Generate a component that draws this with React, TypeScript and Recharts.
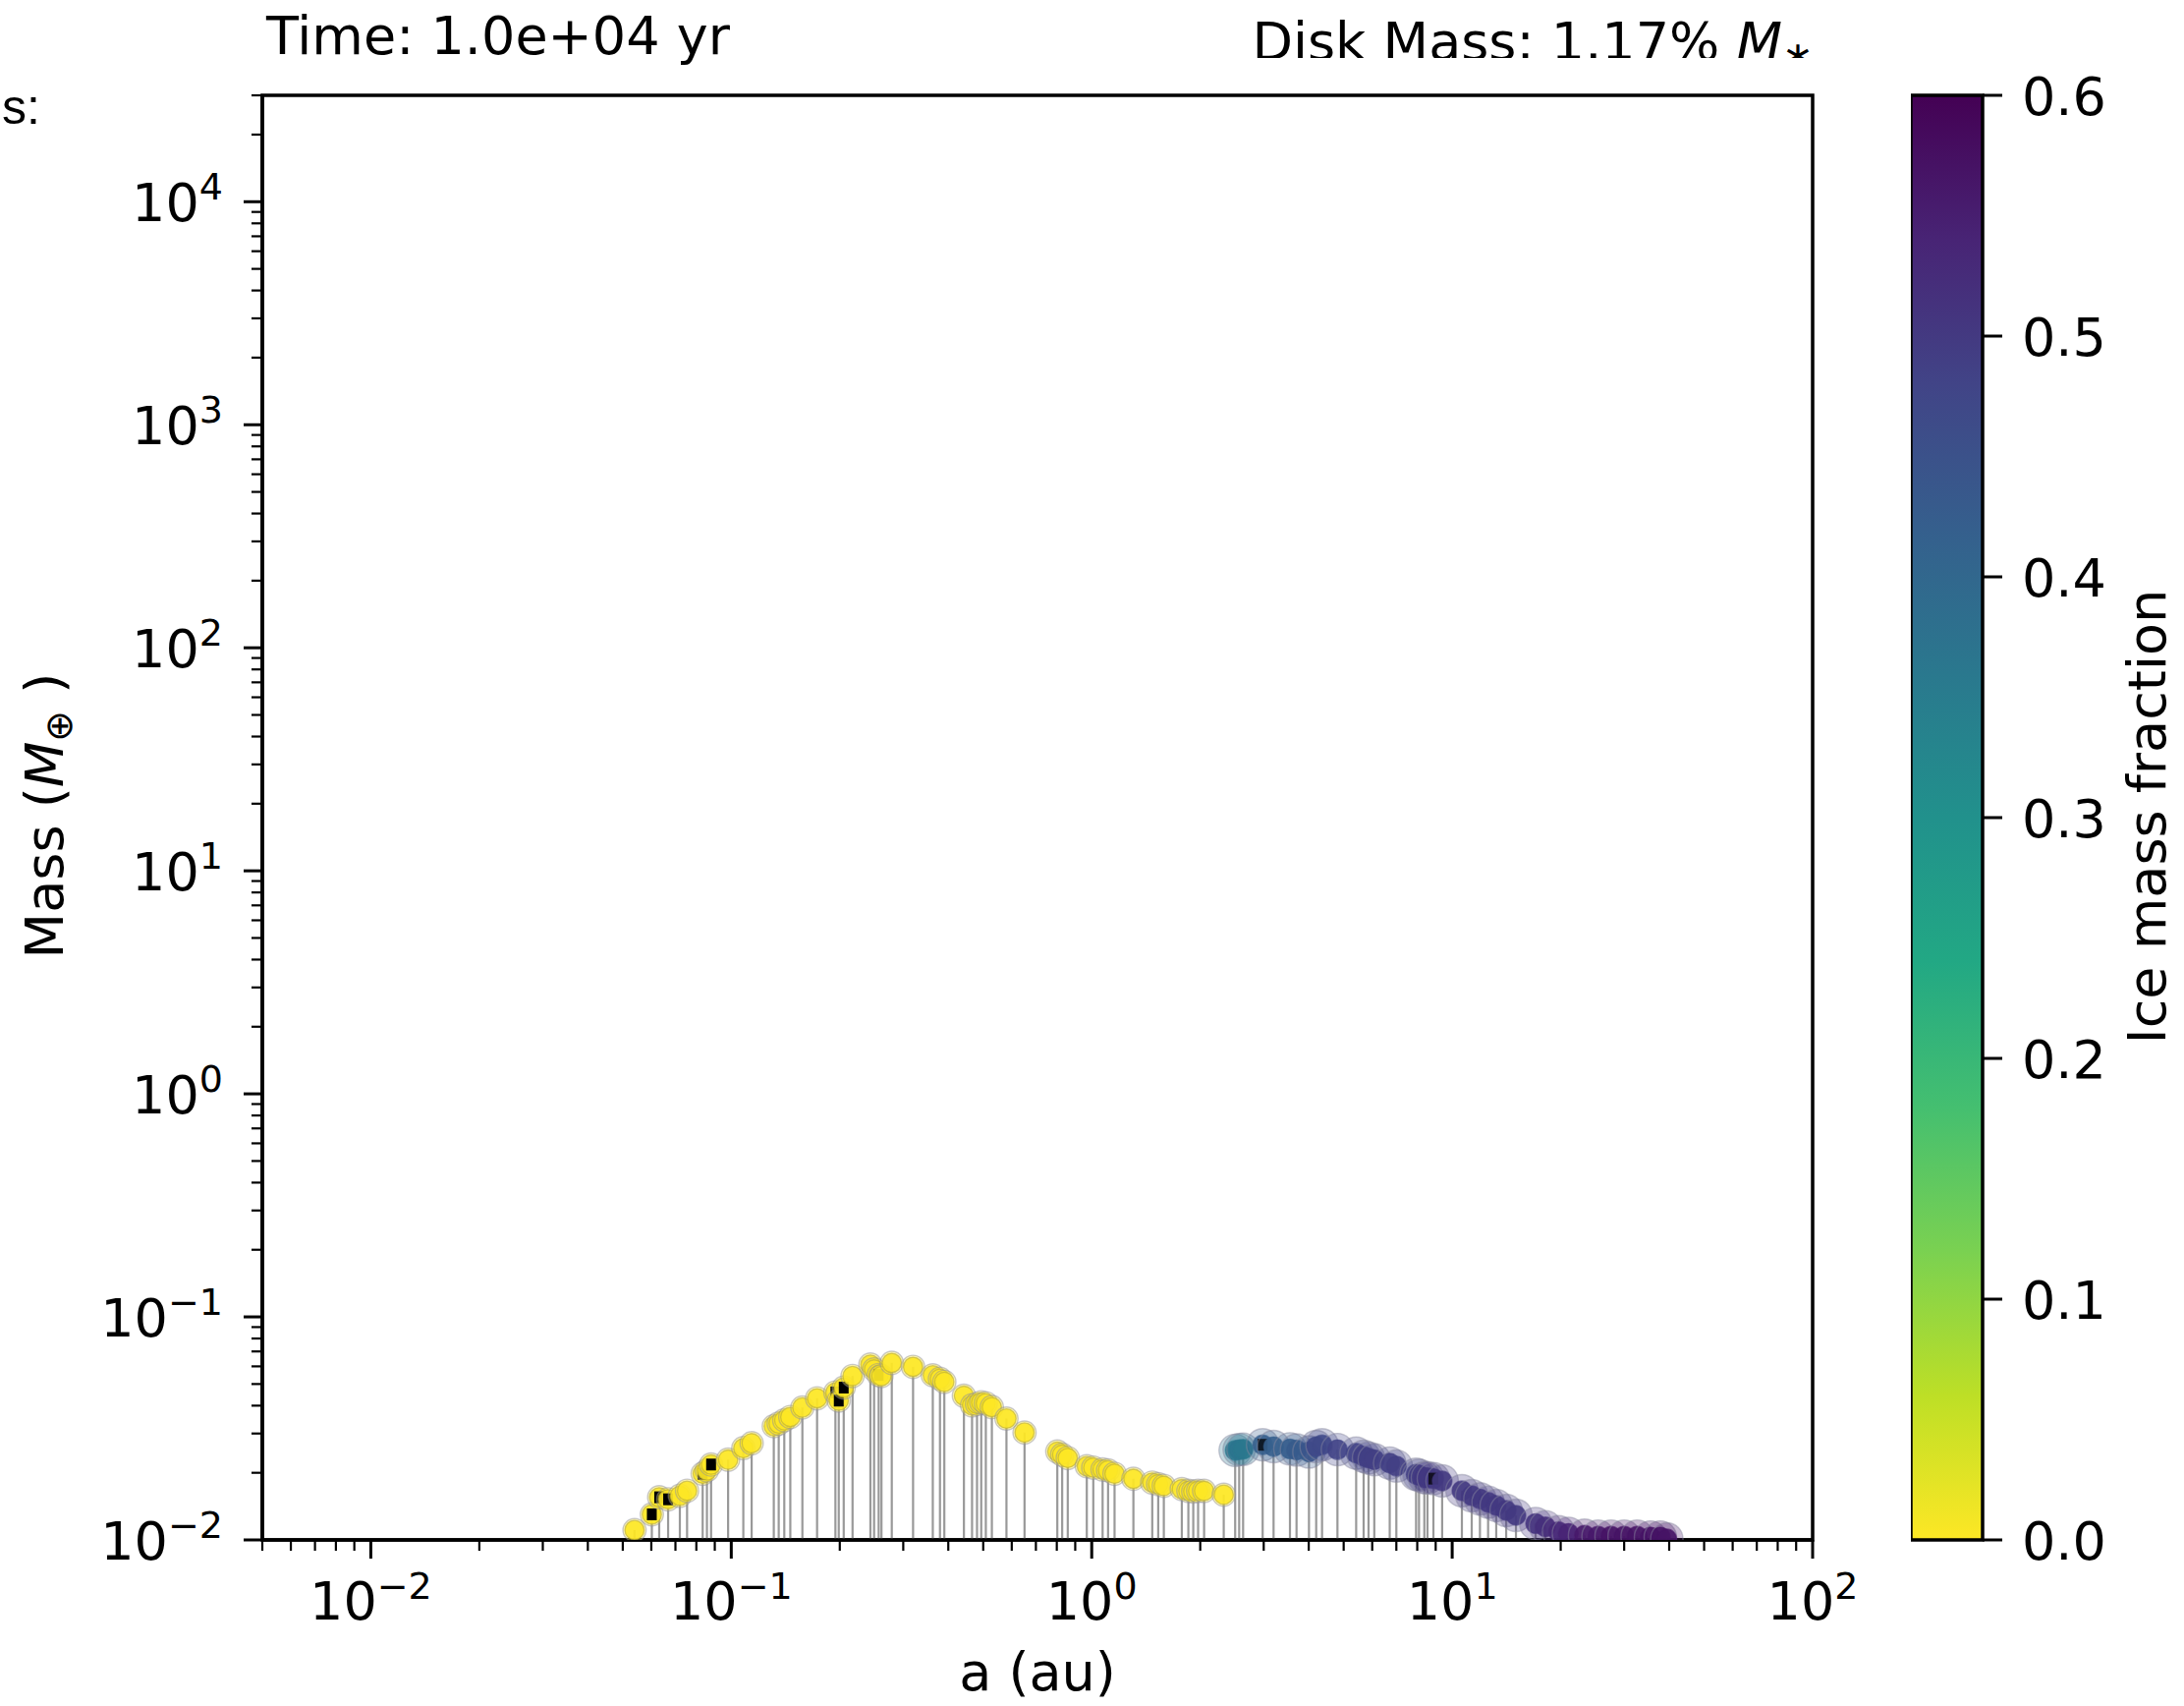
import React from 'react';
import { ScatterChart, Scatter, XAxis, YAxis, ErrorBar, ReferenceArea } from 'recharts';

// ---------- data ----------
// semi-major axis (au)
const semiMajorAxis = [
  // rocky (ice-free) bodies
  0.0539, 0.0602, 0.0631, 0.0668, 0.0720, 0.0754, 0.0833, 0.0856, 0.0879, 0.0980,
  0.108, 0.1139, 0.1312, 0.1354, 0.1403, 0.1458, 0.1575, 0.1730, 0.1945, 0.1987,
  0.2051, 0.2170, 0.2432, 0.2490, 0.2564, 0.2610, 0.2788, 0.3194, 0.3623, 0.3793,
  0.390, 0.442, 0.4656, 0.4806, 0.4937, 0.5084, 0.5284, 0.580, 0.651, 0.8026,
  0.828, 0.858, 0.969, 1.010, 1.072, 1.110, 1.157, 1.305, 1.472, 1.529,
  1.585, 1.778, 1.854, 1.913, 1.973, 2.05, 2.324,
  // icy bodies
  2.50, 2.565, 2.63, 2.98, 3.195, 3.548, 3.70, 4.006, 4.195, 4.355,
  4.805, 5.415, 5.68, 5.86, 6.08, 6.71, 7.00, 7.94, 8.09, 8.37,
  8.54, 8.87, 9.38, 10.64, 11.33, 11.94, 12.58, 13.25, 14.12, 15.03,
  17.04, 18.15, 19.73, 21.02, 23.3, 25.4, 27.6, 30.0, 32.6, 35.5,
  37.8, 39.4,
];
// mass (Earth masses)
const massEarth = [
  0.01107, 0.01302, 0.01553, 0.01521, 0.01578, 0.01662, 0.01981, 0.0205, 0.02178, 0.02291,
  0.02579, 0.02715, 0.03236, 0.03325, 0.0344, 0.03558, 0.03924, 0.04315, 0.04586, 0.04214,
  0.0482, 0.05432, 0.0611, 0.0581, 0.0549, 0.0543, 0.0622, 0.0597, 0.0547, 0.0528,
  0.0511, 0.0443, 0.0401, 0.0407, 0.0414, 0.0410, 0.0394, 0.0350, 0.0303, 0.0249,
  0.0241, 0.0233, 0.0214, 0.0211, 0.0207, 0.0205, 0.0198, 0.0188, 0.01808, 0.01778,
  0.01748, 0.0169, 0.0166, 0.0165, 0.0166, 0.0166, 0.01595,
  0.0252, 0.0254, 0.0255, 0.0267, 0.0262, 0.0256, 0.0253, 0.0248, 0.0262, 0.0267,
  0.0254, 0.0245, 0.0237, 0.0233, 0.0229, 0.0221, 0.02143, 0.01968, 0.0195, 0.01902,
  0.0190, 0.01883, 0.01839, 0.01662, 0.01579, 0.01527, 0.01476, 0.01427, 0.01356, 0.01289,
  0.01184, 0.01145, 0.01088, 0.0107, 0.0105, 0.0104, 0.0104, 0.0104, 0.0104, 0.0103,
  0.0103, 0.0101,
];
// ice mass fraction
const iceFraction = [
  0, 0, 0, 0, 0, 0, 0, 0, 0, 0,
  0, 0, 0, 0, 0, 0, 0, 0, 0, 0,
  0, 0, 0, 0, 0, 0, 0, 0, 0, 0,
  0, 0, 0, 0, 0, 0, 0, 0, 0, 0,
  0, 0, 0, 0, 0, 0, 0, 0, 0, 0,
  0, 0, 0, 0, 0, 0, 0,
  0.36, 0.37, 0.36, 0.42, 0.42, 0.42, 0.43, 0.43, 0.47, 0.47,
  0.48, 0.48, 0.49, 0.49, 0.49, 0.49, 0.49, 0.49, 0.49, 0.5,
  0.5, 0.5, 0.5, 0.5, 0.5, 0.5, 0.5, 0.5, 0.5, 0.5,
  0.51, 0.52, 0.53, 0.54, 0.56, 0.56, 0.57, 0.57, 0.57, 0.57,
  0.57, 0.57,
];
// bodies carrying the small black square marker
const embryoFlag = [
  0, 1, 1, 1, 0, 0, 1, 0, 1, 0,
  0, 0, 0, 0, 0, 0, 0, 0, 1, 1,
  1, 0, 0, 0, 1, 0, 0, 0, 0, 0,
  0, 0, 0, 0, 0, 0, 0, 0, 0, 0,
  0, 0, 0, 0, 0, 0, 0, 0, 0, 0,
  0, 0, 0, 0, 0, 0, 0,
  0, 0, 0, 1, 0, 0, 0, 0, 0, 0,
  0, 0, 0, 0, 0, 0, 0, 0, 0, 0,
  0, 1, 0, 0, 0, 0, 0, 0, 0, 0,
  0, 0, 0, 0, 0, 0, 0, 0, 0, 0,
  0, 0,
];

const xMajorTicks = [0.01, 0.1, 1, 10, 100];
const xMajorLabels = ['\u22122', '\u22121', '0', '1', '2'];
const yMajorTicks = [0.01, 0.1, 1, 10, 100, 1000, 10000];
const yMajorLabels = ['\u22122', '\u22121', '0', '1', '2', '3', '4'];
const colorbarTicks = [0, 0.1, 0.2, 0.3, 0.4, 0.5, 0.6];
const colorbarLabels = ['0.0', '0.1', '0.2', '0.3', '0.4', '0.5', '0.6'];

const X_DOMAIN: [number, number] = [0.005, 100];
const Y_DOMAIN: [number, number] = [0.01, 30000];
const ICE_MAX = 0.6;

// ---------- helpers ----------
const VIRIDIS = ['#440154', '#482475', '#414487', '#355f8d', '#2a788e', '#21918c', '#22a884', '#44bf70', '#7ad151', '#bddf26', '#fde725'];
const hex = (h: string) => [parseInt(h.slice(1, 3), 16), parseInt(h.slice(3, 5), 16), parseInt(h.slice(5, 7), 16)];
function viridis(t: number) {
  const tt = Math.max(0, Math.min(1, t)) * 10;
  const i = Math.min(9, Math.floor(tt));
  const f = tt - i;
  const a = hex(VIRIDIS[i]);
  const b = hex(VIRIDIS[i + 1]);
  const c = a.map((v, k) => Math.round(v + (b[k] - v) * f));
  return `rgb(${c[0]},${c[1]},${c[2]})`;
}
const iceColor = (ice: number) => viridis(1 - ice / ICE_MAX);

function minorTicks(lo: number, hi: number) {
  const out: number[] = [];
  for (let d = -4; d <= 5; d++) {
    for (let k = 1; k <= 9; k++) {
      const v = parseFloat((k * Math.pow(10, d)).toPrecision(6));
      if (v >= lo * 0.9999 && v <= hi * 1.0001) out.push(v);
    }
  }
  return out;
}
const xTicks = minorTicks(X_DOMAIN[0], X_DOMAIN[1]);
const yTicks = minorTicks(Y_DOMAIN[0], Y_DOMAIN[1]);

const points = semiMajorAxis.map((a, i) => ({
  a,
  m: massEarth[i],
  ice: iceFraction[i],
  flag: embryoFlag[i],
  stem: [massEarth[i] - Y_DOMAIN[0], 0],
}));

const colorbarAnchors = colorbarTicks.map((v) => ({ x: 0.5, v }));

const FONT = 'DejaVu Sans';

const majorIndex = (arr: number[], v: number) => arr.findIndex((t) => Math.abs(t - v) / t < 1e-6);

const XTick = (props: any) => {
  const { x, y, payload } = props;
  const mi = majorIndex(xMajorTicks, payload.value);
  const major = mi >= 0;
  return (
    <g>
      <line x1={x} x2={x} y1={y} y2={y + (major ? 19 : 11)} stroke="#000" strokeWidth={major ? 3 : 2.2} />
      {major && (
        <text x={x} y={y + 81} textAnchor="middle" fontFamily={FONT} fontSize={54} fill="#000">
          10<tspan dy={-21} fontSize={38}>{xMajorLabels[mi]}</tspan>
        </text>
      )}
    </g>
  );
};

const YTick = (props: any) => {
  const { x, y, payload } = props;
  const mi = majorIndex(yMajorTicks, payload.value);
  const major = mi >= 0;
  return (
    <g>
      <line x1={x - (major ? 19 : 11)} x2={x} y1={y} y2={y} stroke="#000" strokeWidth={major ? 3 : 2.2} />
      {major && (
        <text x={x - 40} y={y + 20} textAnchor="end" fontFamily={FONT} fontSize={54} fill="#000">
          10<tspan dy={-22} fontSize={38}>{yMajorLabels[mi]}</tspan>
        </text>
      )}
    </g>
  );
};

const CbTick = (props: any) => {
  const { x, y, payload, index } = props;
  const i = colorbarTicks.findIndex((t) => Math.abs(t - payload.value) < 1e-9);
  return (
    <g>
      <line x1={x} x2={x + 20} y1={y} y2={y} stroke="#000" strokeWidth={3} />
      <text x={x + 40} y={y + 19.5} textAnchor="start" fontFamily={FONT} fontSize={54} fill="#000">
        {colorbarLabels[i >= 0 ? i : index]}
      </text>
    </g>
  );
};

const PointShape = (props: any) => {
  const { cx, cy, payload } = props;
  if (cx == null || cy == null) return <g />;
  const icy = payload.ice > 0.05;
  const color = iceColor(payload.ice);
  const r = icy ? 10 : 9.8;
  return (
    <g>
      <circle cx={cx} cy={cy} r={r + (icy ? 6.5 : 2)} fill={color} fillOpacity={icy ? 0.28 : 0.35}
        stroke="#8a8aa0" strokeOpacity={0.45} strokeWidth={1.4} />
      <circle cx={cx} cy={cy} r={r} fill={color} fillOpacity={0.9}
        stroke={icy ? color : '#b5a93c'} strokeOpacity={0.6} strokeWidth={1.3} />
      {payload.flag ? <rect x={cx - 5} y={cy - 6} width={10} height={12} fill="#000" /> : null}
    </g>
  );
};

const EmptyShape = () => <g />;

const PLOT_LEFT = 267;
const PLOT_RIGHT = 1845;
const PLOT_TOP = 97;
const PLOT_BOTTOM = 1567;
const W = 2223;
const H = 1736;
const YW = 150;
const XH = 100;

export default function App() {
  const cbLeft = 1945;
  const cbRight = 2018;
  const cbW = W - cbLeft;
  return (
    <div style={{ position: 'absolute', left: 0, top: 0, width: W, height: H, background: '#fff', overflow: 'hidden' }}>
      <ScatterChart
        width={W}
        height={H}
        margin={{ top: PLOT_TOP, right: W - PLOT_RIGHT, bottom: H - PLOT_BOTTOM - XH, left: PLOT_LEFT - YW }}
      >
        <XAxis
          type="number"
          dataKey="a"
          scale="log"
          domain={X_DOMAIN}
          allowDataOverflow
          ticks={xTicks}
          interval={0}
          tick={<XTick />}
          tickLine={false}
          tickSize={0}
          tickMargin={0}
          height={XH}
          axisLine={{ stroke: '#000', strokeWidth: 3.5 }}
        />
        <YAxis
          type="number"
          dataKey="m"
          scale="log"
          domain={Y_DOMAIN}
          allowDataOverflow
          ticks={yTicks}
          interval={0}
          tick={<YTick />}
          tickLine={false}
          tickSize={0}
          tickMargin={0}
          width={YW}
          axisLine={{ stroke: '#000', strokeWidth: 3.5 }}
        />
        <ReferenceArea x1={X_DOMAIN[0]} x2={X_DOMAIN[1]} y1={Y_DOMAIN[0]} y2={Y_DOMAIN[1]}
          fill="none" fillOpacity={0} stroke="#000" strokeWidth={3.5} ifOverflow="visible" />
        <Scatter data={points} dataKey="m" shape={PointShape} isAnimationActive={false}>
          <ErrorBar dataKey="stem" direction="y" width={0} stroke="#999999" strokeWidth={2.2} isAnimationActive={false} />
        </Scatter>
      </ScatterChart>

      <div style={{ position: 'absolute', left: cbLeft, top: 0 }}>
        <ScatterChart
          width={cbW}
          height={H}
          margin={{ top: PLOT_TOP, bottom: H - PLOT_BOTTOM, left: 0, right: cbW - (cbRight - cbLeft) - YW }}
        >
          <defs>
            <linearGradient id="cbGrad" x1="0" y1="0" x2="0" y2="1">
              {VIRIDIS.map((c, i) => (
                <stop key={i} offset={`${i * 10}%`} stopColor={c} />
              ))}
            </linearGradient>
          </defs>
          <XAxis type="number" dataKey="x" domain={[0, 1]} hide />
          <YAxis
            type="number"
            dataKey="v"
            orientation="right"
            domain={[0, ICE_MAX]}
            ticks={colorbarTicks}
            interval={0}
            tick={<CbTick />}
            tickLine={false}
            tickSize={0}
            tickMargin={0}
            width={YW}
            axisLine={false}
          />
          <ReferenceArea x1={0} x2={1} y1={0} y2={ICE_MAX} fill="url(#cbGrad)" fillOpacity={1}
            stroke="#000" strokeWidth={3.5} ifOverflow="visible" />
          <Scatter data={colorbarAnchors} dataKey="v" shape={EmptyShape} isAnimationActive={false} />
        </ScatterChart>
      </div>

      <svg width={W} height={H} style={{ position: 'absolute', left: 0, top: 0, pointerEvents: 'none' }}>
        <defs>
          <clipPath id="diskClip">
            <rect x={1200} y={0} width={700} height={59} />
          </clipPath>
        </defs>
        <text x={2} y={126} textAnchor="start" fontFamily="Liberation Sans" fontSize={50} fill="#000">s:</text>
        <text x={271} y={55} fontFamily={FONT} fontSize={54} fill="#000">Time: 1.0e+04 yr</text>
        <g clipPath="url(#diskClip)">
          <text x={1846} y={61} textAnchor="end" fontFamily={FONT} fontSize={54} fill="#000">
            Disk Mass: 1.17% <tspan fontStyle="italic">M</tspan>
            <tspan fontSize={38} dy={8}>{'\u2217'}</tspan>
          </text>
        </g>
        <text transform="translate(64,830) rotate(-90)" x={0} y={0} textAnchor="middle" fontFamily={FONT} fontSize={54} fill="#000">
          Mass (<tspan fontStyle="italic">M</tspan>
          <tspan fontSize={38} dy={9}>{'\u2295'}</tspan>
          <tspan dy={-9}> )</tspan>
        </text>
        <text x={1056} y={1720} textAnchor="middle" fontFamily={FONT} fontSize={54} fill="#000">a (au)</text>
        <text transform="translate(2204,831) rotate(-90)" x={0} y={0} textAnchor="middle" fontFamily={FONT} fontSize={54} fill="#000">
          Ice mass fraction
        </text>
      </svg>
    </div>
  );
}
